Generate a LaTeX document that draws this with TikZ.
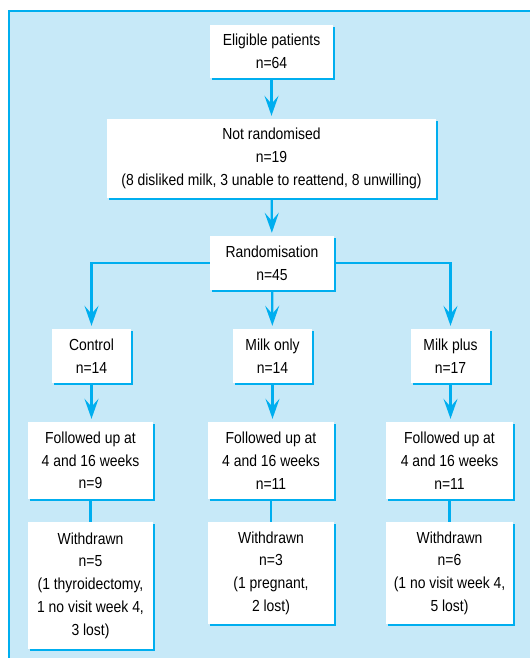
\documentclass[tikz,border=0pt]{standalone}
\usepackage{fontspec}
\setmainfont{Liberation Sans}[FakeStretch=0.87]
\usetikzlibrary{arrows.meta,shadows}

\definecolor{flowblue}{RGB}{0,174,239}
\definecolor{paleblue}{RGB}{199,233,248}

\tikzstyle{box} = [rectangle, fill=white, inner sep=0pt, align=center,
    font=\fontsize{16}{22.7}\selectfont,
    drop shadow={shadow xshift=2pt, shadow yshift=-2pt, fill=flowblue, opacity=1}]
\tikzstyle{link} = [draw=flowblue, line width=2.2pt]
\tikzstyle{arrow} = [link, -{Stealth[length=20pt, width=14pt, inset=8pt]}, shorten >=3pt]

\begin{document}
\begin{tikzpicture}[x=1pt, y=-1pt]
\useasboundingbox (0,0) rectangle (530,658);
%achtergrond
\fill[paleblue] (9,11) rectangle (530,658);
\draw[flowblue, line width=1.5pt] (9,658) -- (9,11) -- (530,11);
%begin top
\node[box, minimum width=123pt, minimum height=53pt] (elig) at (271.5,51.5)
    {Eligible patients\\n=64};
\node[box, minimum width=329pt, minimum height=79pt] (notrand) at (271.5,158.5)
    {Not randomised\\n=19\\(8 disliked milk, 3 unable to reattend, 8 unwilling)};
\node[box, minimum width=124pt, minimum height=54pt] (rand) at (272,263)
    {Randomisation\\n=45};
%end top
%begin groepen
\node[box, minimum width=79pt, minimum height=54pt] (control) at (91.5,356)
    {Control\\n=14};
\node[box, minimum width=79pt, minimum height=54pt] (milkonly) at (272.5,356)
    {Milk only\\n=14};
\node[box, minimum width=79pt, minimum height=54pt] (milkplus) at (450.5,356)
    {Milk plus\\n=17};
%end groepen
%begin follow-up
\node[box, minimum width=125pt, minimum height=77pt] (fucontrol) at (90.5,460.5)
    {Followed up at\\4 and 16 weeks\\n=9};
\node[box, minimum width=126pt, minimum height=77pt] (fumilkonly) at (271,460.5)
    {Followed up at\\4 and 16 weeks\\n=11};
\node[box, minimum width=127pt, minimum height=77pt] (fumilkplus) at (449.5,460.5)
    {Followed up at\\4 and 16 weeks\\n=11};
%end follow-up
%begin withdrawn
\node[box, minimum width=125pt, minimum height=127pt] (wdcontrol) at (90.5,585.5)
    {Withdrawn\\n=5\\(1 thyroidectomy,\\1 no visit week 4,\\3 lost)};
\node[box, minimum width=126pt, minimum height=102pt] (wdmilkonly) at (271,573)
    {Withdrawn\\n=3\\(1 pregnant,\\2 lost)};
\node[box, minimum width=127pt, minimum height=102pt] (wdmilkplus) at (449.5,573)
    {Withdrawn\\n=6\\(1 no visit week 4,\\5 lost)};
%end withdrawn
%begin pijlen
\draw[arrow] (elig) -- (notrand);
\draw[arrow] (notrand) -- (rand);
\draw[arrow] (rand.west) -| (control);
\draw[arrow] (rand) -- (milkonly);
\draw[arrow] (rand.east) -| (milkplus);
\draw[arrow] (control) -- (control|-fucontrol.north);
\draw[arrow] (milkonly) -- (milkonly|-fumilkonly.north);
\draw[arrow] (milkplus) -- (milkplus|-fumilkplus.north);
\draw[link] (fucontrol) -- (wdcontrol);
\draw[link] (fumilkonly) -- (wdmilkonly);
\draw[link] (fumilkplus) -- (wdmilkplus);
%end pijlen
\end{tikzpicture}
\end{document}
